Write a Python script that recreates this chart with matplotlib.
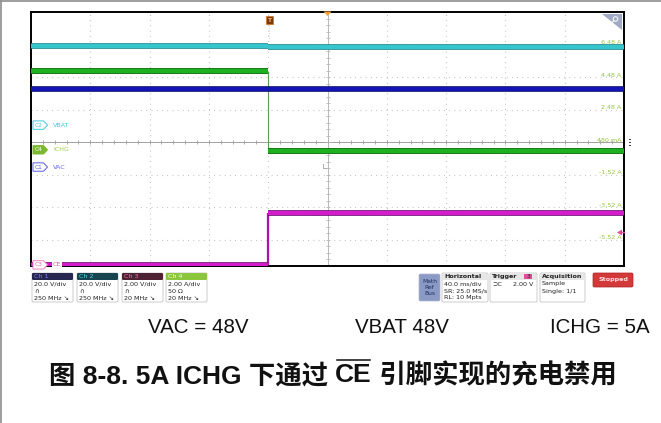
import matplotlib
matplotlib.use("Agg")
import matplotlib.pyplot as plt
import matplotlib.patheffects as pe
import matplotlib.transforms as mtrans
from matplotlib.patches import Polygon, FancyBboxPatch, Rectangle, Circle
import numpy as np

# ---------------- data ----------------
time_edges_ms = [-160.0, 0.0, 240.0]          # trace start, CE event (trigger), trace end
vac_v = [48.0, 48.0]                          # Ch1 VAC before / after
vbat_v = [48.6, 48.2]                         # Ch2 VBAT before / after
ce_v = [0.0, 3.2]                             # Ch3 CE before / after
ichg_a = [4.85, -0.05]                        # Ch4 ICHG before / after

ch_names = ["VAC", "VBAT", "CE", "ICHG"]
ch_tags = ["C1", "C2", "C3", "C4"]
ch_scale = [20.0, 20.0, 2.0, 2.0]             # units / div
ch_offset_div = [-0.77, 0.52, -3.78, -0.24]   # ground marker position (div)

ch4_ticks_div = [3, 2, 1, 0, -1, -2, -3]
ch4_tick_labels = ["6.48 A", "4.48 A", "2.48 A", "480 mA", "-1.52 A", "-3.52 A", "-5.52 A"]

ch_info = [
    ("Ch 1", ["20.0 V/div", "\u2229", "250 MHz \u2198"]),
    ("Ch 2", ["20.0 V/div", "\u2229", "250 MHz \u2198"]),
    ("Ch 3", ["2.00 V/div", "\u2229", "20 MHz \u2198"]),
    ("Ch 4", ["2.00 A/div", "50 \u03a9", "20 MHz \u2198"]),
]
horiz_info = ["40.0 ms/div", "SR: 25.0 MS/s", "RL: 10 Mpts"]
acq_info = ["Sample", "Single: 1/1"]
bottom_labels = ["VAC = 48V", "VBAT 48V", "ICHG = 5A"]
caption_parts = ["图 8-8. 5A ICHG 下通过 ", "CE", " 引脚实现的充电禁用"]

# ---------------- figure ----------------
W, H = 661, 423
fig = plt.figure(figsize=(W / 100, H / 100), dpi=100)
fig.patch.set_facecolor("white")

ax = fig.add_axes([31 / W, 1 - 266 / H, 593 / W, 254 / H], zorder=1)
ax.set_xlim(-160, 240)
ax.set_ylim(-3.815, 4.0)
ax.set_xticks([]); ax.set_yticks([])
for s in ax.spines.values():
    s.set_color("black"); s.set_linewidth(1.4)

# grid
for gx in np.arange(-120, 240, 40):
    if gx == 40:
        continue
    ax.axvline(gx, color="#b4b4b4", lw=0.8, ls=(0, (0.7, 4.0)), zorder=0)
for gy in range(-3, 4):
    if gy == 0:
        continue
    ax.axhline(gy, color="#b4b4b4", lw=0.8, ls=(0, (0.7, 4.0)), zorder=0)
ax.axhline(0, color="#a0a0a0", lw=0.7, zorder=0)
ax.axvline(40, color="#b8b8b8", lw=0.7, zorder=0)
tx = np.arange(-160, 240.1, 8)
ax.plot(tx, np.zeros_like(tx), ls="none", marker="|", ms=3, mew=0.6, color="#a0a0a0", zorder=0)
ty = np.arange(-3.8, 4.01, 0.2)
ax.plot(np.full_like(ty, 40), ty, ls="none", marker="_", ms=3, mew=0.6, color="#b8b8b8", zorder=0)

def to_div(v, i):
    return ch_offset_div[i] + v / ch_scale[i]

traces = [
    (1, vbat_v, "#34c6cc", "#0c7c84", 3.0, 1.0, "#0c7c84"),
    (3, ichg_a, "#1fb01f", "#066006", 3.2, 0.8, "#5a9a5a"),
    (0, vac_v, "#1414b4", "#00005a", 3.0, 1.0, "#1414b4"),
    (2, ce_v, "#d41ccc", "#5a0060", 3.0, 1.6, "#b010b0"),
]
for i, vals, col, edge, lw, vlw, vcol in traces:
    y0, y1 = to_div(vals[0], i), to_div(vals[1], i)
    effects = [pe.Stroke(linewidth=lw + 1.0, foreground=edge), pe.Normal()]
    ax.vlines(time_edges_ms[1], min(y0, y1), max(y0, y1), color=vcol, lw=vlw, zorder=3)
    ax.hlines([y0, y1], [time_edges_ms[0], time_edges_ms[1]], [time_edges_ms[1], time_edges_ms[2]],
              color=col, lw=lw, zorder=4, path_effects=effects, capstyle="butt")

# Ch4 scale labels on right
bl = mtrans.blended_transform_factory(ax.transAxes, ax.transData)
for d, lab in zip(ch4_ticks_div, ch4_tick_labels):
    ax.text(0.996, d + 0.06, lab, transform=bl, ha="right", va="center",
            fontsize=4.6, color="#96c83c", zorder=5)

# ---------------- overlay (pixel coordinates) ----------------
ov = fig.add_axes([0, 0, 1, 1], zorder=2)
ov.set_xlim(0, W); ov.set_ylim(H, 0); ov.axis("off")

# page border
ov.plot([1.2, 1.2], [1, H], color="#8c8c8c", lw=1.2)
ov.plot([1, W], [1.2, 1.2], color="#8c8c8c", lw=1.2)

# channel tags (y in div via blended transform)
tb = mtrans.blended_transform_factory(ov.transData, ax.transData)
tag_style = {
    0: ("#5a5ae6", "white", "#5a5ae6", "#6a6af0"),
    1: ("#40c8e0", "white", "#40c8e0", "#40c8e0"),
    2: ("#f080c0", "white", "#e060a0", "#e060a0"),
    3: ("#7cb82f", "#7cb82f", "white", "#a0cc50"),
}
hdiv = 4.2 / 32.5
for i in [1, 3, 0, 2]:
    y = ch_offset_div[i]
    ec, fc, tcol, ncol = tag_style[i]
    pts = [(33, y - hdiv), (43.5, y - hdiv), (47.5, y), (43.5, y + hdiv), (33, y + hdiv)]
    ov.add_patch(Polygon(pts, closed=True, fc=fc, ec=ec, lw=0.7, transform=tb, zorder=6))
    ov.text(38.5, y, ch_tags[i], transform=tb, fontsize=4.2, color=tcol, ha="center", va="center", zorder=7)
    if i == 2:
        ov.text(53, y, ch_names[i], transform=tb, fontsize=4.6, color=ncol, ha="left", va="center", zorder=7,
                bbox=dict(boxstyle="square,pad=0.1", fc="white", ec="none"))
    else:
        ov.text(53, y, ch_names[i], transform=tb, fontsize=4.6, color=ncol, ha="left", va="center", zorder=7)

# trigger T marker and center marker
ov.add_patch(Rectangle((265.5, 16), 7.5, 8, fc="#7a3a12", ec="#d27a2a", lw=0.6, zorder=6))
ov.text(269.3, 20.2, "T", fontsize=4.5, color="#f2b070", ha="center", va="center", fontweight="bold", zorder=7)
ov.plot([269.3, 269.3], [25, 40], color="#c8c8c8", lw=0.6, ls=(0, (1, 2)))
ov.add_patch(Polygon([(323.5, 11.5), (331.5, 11.5), (327.5, 16)], closed=True, fc="#f0a030", ec="none", zorder=6))

# zoom icon
ov.add_patch(Polygon([(602, 14.5), (621.5, 14.5), (621.5, 30)], closed=True, fc="#a0aac4", ec="none", zorder=6))
ov.add_patch(Circle((615.5, 19), 2.3, fc="none", ec="white", lw=0.7, zorder=7))
ov.plot([613.8, 610.5], [20.7, 24], color="white", lw=0.8, zorder=7)

# right-side dots and trigger level arrow
for yy in (139.5, 142.5, 145.5):
    ov.add_patch(Rectangle((628.5, yy - 0.9), 2.2, 1.8, fc="#404040", ec="none"))
ov.add_patch(Polygon([(617, 232.5), (622, 229.5), (622, 235.5)], closed=True, fc="#e0509a", ec="none", zorder=7))
ov.plot([621, 624], [232.5, 232.5], color="#e0509a", lw=1.0, zorder=7)

# mouse pointer
ov.plot([322.5, 322.5, 325.5], [164, 168.5, 168.5], color="#a0a0a0", lw=0.6)

# ---------------- bottom info panel ----------------
ui = dict(family="DejaVu Sans", fontsize=4.6, color="#222222")
ch_boxes = [
    (32, "#262650", "#8080e8"),
    (77, "#17444e", "#50d0e8"),
    (122, "#4e2232", "#f070a8"),
    (166, "#8cc63c", "#f4ffe8"),
]
for (x0, hcol, tcol), (hdr, lines) in zip(ch_boxes, ch_info):
    ov.add_patch(FancyBboxPatch((x0, 273), 41, 29, boxstyle="round,pad=0,rounding_size=1.5",
                                fc="white", ec="#c4c4c4", lw=0.6))
    ov.add_patch(FancyBboxPatch((x0, 273), 41, 7, boxstyle="round,pad=0,rounding_size=1.2",
                                fc=hcol, ec="none"))
    ov.text(x0 + 2, 276.8, hdr, fontsize=4.6, color=tcol, ha="left", va="center", family="DejaVu Sans")
    for k, ln in enumerate(lines):
        ov.text(x0 + 2, 284.5 + k * 7, ln, ha="left", va="center", **ui)

# Math Ref Bus
ov.add_patch(FancyBboxPatch((419, 274), 21, 27, boxstyle="round,pad=0,rounding_size=1.5",
                            fc="#8a9ac4", ec="#b0b8d0", lw=0.5))
ov.text(429.5, 287.5, "Math\nRef\nBus", fontsize=4.3, color="#203060", ha="center", va="center",
        linespacing=1.25, family="DejaVu Sans")

def panel(x0, w, title, lines):
    ov.add_patch(FancyBboxPatch((x0, 273), w, 29, boxstyle="round,pad=0,rounding_size=1.5",
                                fc="white", ec="#c4c4c4", lw=0.6))
    ov.add_patch(FancyBboxPatch((x0 + 0.5, 273.5), w - 1, 6.5, boxstyle="round,pad=0,rounding_size=1.2",
                                fc="#e6e6e6", ec="none"))
    ov.text(x0 + 2, 276.8, title, fontsize=4.6, color="#222222", ha="left", va="center",
            fontweight="bold", family="DejaVu Sans")
    for k, ln in enumerate(lines):
        ov.text(x0 + 2, 284.0 + k * 7, ln, ha="left", va="center", **ui)

panel(442, 46, "Horizontal", horiz_info)
panel(490, 47, "Trigger", [])
ov.add_patch(Rectangle((524, 274.5), 8, 5, fc="#e0509a", ec="none"))
ov.text(528, 277, "3", fontsize=4.3, color="#222222", ha="center", va="center")
ov.text(492, 284.0, "\u2283C", ha="left", va="center", **ui)
ov.text(533, 284.0, "2.00 V", ha="right", va="center", **ui)
panel(540, 45, "Acquisition", acq_info)

ov.add_patch(FancyBboxPatch((593, 273), 40, 14, boxstyle="round,pad=0,rounding_size=1.5",
                            fc="#d23a3a", ec="#b02020", lw=0.5))
ov.text(613, 280, "Stopped", fontsize=4.6, color="#ffe0e0", ha="center", va="center",
        fontweight="bold", family="DejaVu Sans")

# ---------------- text under the screenshot ----------------
lab_x = [198, 402, 600]
for x, s in zip(lab_x, bottom_labels):
    ov.text(x, 327.5, s, fontsize=14.8, family="Liberation Sans", ha="center", va="center", color="#111111")

cap_font = dict(fontsize=19, fontweight="bold", family=["Liberation Sans", "Noto Sans CJK SC"], color="#111111")
fig.canvas.draw()
r = fig.canvas.get_renderer()
tmp = [ov.text(0, 0, p, **cap_font) for p in caption_parts]
widths = [t.get_window_extent(r).width for t in tmp]
for t in tmp:
    t.remove()
total = sum(widths)
x = 332.5 - total / 2
cy = 373
for p, w in zip(caption_parts, widths):
    t = ov.text(x, cy, p, ha="left", va="center_baseline", **cap_font)
    if p == "CE":
        ov.plot([x + 1.5, x + w - 1.5], [cy - 12.5, cy - 12.5], color="#111111", lw=1.1)
    x += w

fig.savefig("out.png", dpi=100, facecolor="white")
